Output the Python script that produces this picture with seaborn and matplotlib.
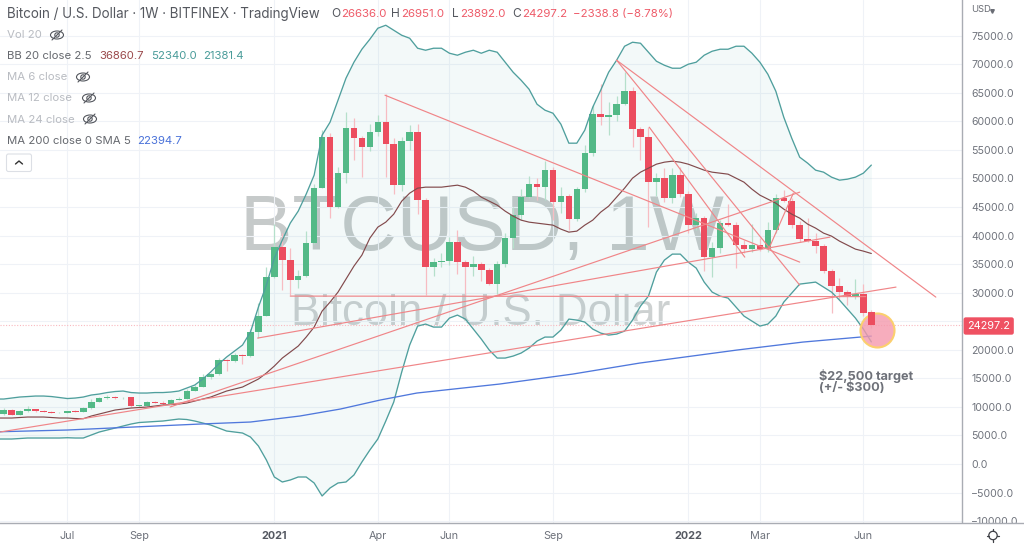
import numpy as np
import pandas as pd
import matplotlib
matplotlib.use("Agg")
import matplotlib.pyplot as plt
import seaborn as sns
from matplotlib.lines import Line2D
from matplotlib.patches import Ellipse, FancyBboxPatch, Circle
from matplotlib.transforms import Affine2D

# ---------- data (USD, weekly candles) ----------
opens = [8700,9450,8600,9250,9600,9250,9100,8950,9000,9300,9100,9750,10900,11550,11750,11500,11650,10200,10200,10900,
         10750,10500,11250,11350,12850,13550,15150,15750,18150,18000,19150,18900,23100,26000,32700,38000,35700,32200,33000,38700,
         48400,57300,45000,50900,58800,57100,55500,58100,59800,56000,48900,56500,58100,46300,34500,35400,35600,38800,35300,34500,
         35100,34000,31600,35100,39600,43600,46800,49000,48500,51500,45800,47000,42900,48100,54500,61300,60700,61100,63100,65300,
         58600,57200,49300,50000,46600,50600,47300,41800,43000,36200,37900,42200,41900,38300,37600,38300,37600,41000,46500,46100,
         41900,39400,39100,38100,33800,31150,30100,29300,29800,26636]
closes = [9450,8650,9250,9600,9200,9150,8950,9000,9250,9150,9750,10900,11550,11750,11500,11600,10150,10250,10850,10750,
          10500,11250,11350,12850,13550,15150,15750,18150,18000,19100,18900,23100,26000,32700,38000,35700,32200,32900,38700,48400,
          57300,45000,50900,58800,57100,55500,58100,59800,56000,48900,56500,58100,46300,34500,35400,35600,38800,35300,34500,35100,
          34000,31600,35100,39600,43600,46800,49000,48500,51500,45800,47000,42900,48100,54500,61300,60700,61100,63100,65300,58600,
          57200,49300,50000,46600,50600,47300,41800,43000,36200,37900,42200,41900,38300,37600,38300,37600,41000,46500,46100,41900,
          39400,39100,38100,33800,31150,30100,29300,29800,26500,24297]
highs = [9800,9650,9400,10100,9700,9500,9350,9150,9350,9400,9900,11350,11700,12000,11900,11800,11700,10400,11000,11100,
         10950,11400,11700,13200,13800,15800,16000,18500,18400,19500,19300,23700,28200,34500,42100,40400,37750,34000,40800,49000,
         58400,58000,52000,61650,60500,57400,59500,61100,64800,57000,57200,59300,59600,46500,36000,37000,39800,40950,35800,36500,
         35300,34400,35500,40500,45000,48200,50400,50000,53000,52000,48500,47300,48500,55800,62900,66600,63400,64500,68650,66000,
         59000,59000,51000,51800,51800,52000,47800,44000,43500,38800,42800,45600,42300,39300,42000,39500,42400,47200,48000,46600,
         42500,43100,40500,38600,34200,32500,30400,32400,31600,26951]
lows = [8600,8500,8500,9150,9100,9050,8850,8900,8950,9100,9050,9700,10850,11400,11350,11400,10000,10050,10150,10650,
        10400,10350,11200,11300,12800,13500,14900,15600,16200,17900,17500,18800,22000,25900,32500,30450,29575,30900,32800,38500,
        48300,43000,44800,49200,53200,50300,54800,57500,50300,47200,47800,55000,43800,29575,33000,34500,34800,33350,29575,33000,
        32000,31300,29800,34500,37800,42800,46500,46200,46200,42700,44000,40900,42500,47600,54000,59300,57600,60000,62800,55500,
        53200,41500,47000,45800,45700,46800,40500,41000,33800,32800,36900,41700,34400,37000,37100,37300,37100,40400,45800,41300,
        38800,38800,37000,33500,26400,28700,27800,28900,26000,23892]

bb_upper = [11375,11375,11550,11725,11810,11900,11900,11810,11640,11460,11550,11725,12075,12250,12510,12690,12775,12510,12425,12425,12510,12510,12600,12775,13300,13825,14875,16100,17500,18725,19775,20825,23100,27475,31325,36050,39200,42175,44275,47250,50575,
            57575,59850,63700,67550,70350,72625,74375,76300,76825,75950,75075,74550,72800,72450,72800,72800,71925,71575,72100,72450,71925,72450,72100,70350,68600,67200,65625,63000,61950,61425,59500,56175,56175,58450,62475,65450,68600,70700,73150,73850,73675,72100,70525,69825,69300,69300,70000,70350,71575,72275,72625,72625,73150,73150,71925,70350,68250,65275,60725,57050,53725,52675,51450,51100,50225,49700,49875,50225,50925,52340]
bb_lower = [4375,4375,4375,4460,4550,4550,4550,4550,4550,4600,4550,4550,5075,5600,5950,6300,6650,7000,7260,7350,7440,7525,7700,7875,7790,7525,7175,6825,6300,5775,5600,5425,4725,3150,700,-2275,-3150,-2800,-2275,-2275,-3325,
            -5600,-4200,-3325,-3150,-1925,350,2450,4375,7525,10850,16100,20825,24150,24500,23975,23975,25550,26075,25375,23625,21875,19950,18550,18550,18900,19425,20300,21525,22225,22225,23450,25375,25200,24850,23625,22925,22575,22750,23275,25200,27650,29400,33600,35700,36750,36750,35350,34300,31850,30100,29400,29050,27475,25900,25025,24150,24500,25900,28350,29925,31500,31675,31850,30975,30100,28700,27125,25550,23625,21381]
bb_basis = [8050,8050,8050,8140,8225,8225,8225,8140,8050,8050,7960,7930,8400,8750,9100,9450,9625,9800,9890,9975,10150,10325,10410,10500,10675,11025,11375,11725,12250,12775,13125,13475,14175,14875,15925,17150,18550,19600,20650,22225,23975,
            26775,28350,30100,32375,34650,36575,39550,41475,42350,43750,46025,47425,48300,48475,48475,48475,48650,48825,48475,47775,46725,46025,45325,44275,43400,42700,42350,42175,42000,41825,41125,40600,40775,41825,42700,44100,45150,46725,48300,50050,51100,51800,52500,52850,53025,52850,52500,51975,51450,51100,50925,50750,50050,49350,48125,47075,46375,45675,44625,43750,43050,42000,41300,40425,39900,39025,38325,37625,37275,36860]

ma_weeks = [-0.5,8,16.3,24.7,31,37.2,42.3,47.3,51.9,62.3,71.5,79.9,92.1,100.4,109]
ma_values = [5650,5950,6475,7000,7350,8400,9625,11200,12425,14000,15750,17675,19950,21350,22395]

trend_x0 = [47.9,36.0,31.9,-0.46,20.9,77.0,77.0,81.1,96.1]
trend_y0 = [64575,29400,22050,5600,9975,70700,70700,58975,37625]
trend_x1 = [100.0,108.3,103.8,112.1,100.0,117.1,100.0,93.1,99.2]
trend_y1 = [35350,29310,39725,30975,47600,29225,31325,36225,47425]

last_price = 24297.2
target_week = 109.7
target_price = 23450

ytick_values = list(range(-10000, 80000, 5000))
xtick_weeks = [8,17,34,47,56,69,86,95,108]
xtick_labels = ["Jul","Sep","2021","Apr","Jun","Sep","2022","Mar","Jun"]

# ---------- style ----------
FONT = ["Inter", "DejaVu Sans"]
sns.set_theme(style="white")
plt.rcParams["font.family"] = FONT
plt.rcParams["axes.unicode_minus"] = False
GREEN, RED = "#53b987", "#ec4d5f"
GREEN_W, RED_W = "#b5e0cb", "#f7bcc2"
TEAL, BASIS, BLUE, TREND = "#4f9f9d", "#824a4c", "#5078dc", "#f08588"
GRID, AXIS, LABEL = "#eff2f7", "#a9acb3", "#6f737c"

W, H = 1024, 546
fig = plt.figure(figsize=(W/100, H/100), dpi=100, facecolor="white")
pix = Affine2D().scale(1/W, -1/H).translate(0, 1) + fig.transFigure

ax = fig.add_axes([0, 23/H, 962/W, 523/H], zorder=1)
ax.set_xlim(-0.465, 120.39)
ax.set_ylim(-10331, 81246)

# grid and axes
ax.set_yticks(ytick_values)
ax.set_yticklabels(["" if v == 25000 else f"{v:.1f}".replace("-", "\u2212") for v in ytick_values])
ax.yaxis.tick_right()
ax.tick_params(axis="y", length=0, pad=6.5, labelsize=7.6, labelcolor=LABEL)
ax.set_xticks(xtick_weeks)
ax.tick_params(axis="x", length=0, labelbottom=False)
ax.grid(True, color=GRID, lw=0.8, zorder=0)
ax.set_axisbelow(True)
for s in ["top", "left", "bottom"]:
    ax.spines[s].set_visible(False)
ax.spines["right"].set_color(AXIS)
ax.spines["right"].set_linewidth(1.0)

# watermarks
ax.text(482, 250, "BTCUSD, 1W", transform=pix, ha="center", va="baseline", fontsize=56.5,
        family="Liberation Sans", color="#c6caca", zorder=0.5)
ax.text(481, 325, "Bitcoin / U.S. Dollar", transform=pix, ha="center", va="baseline", fontsize=31.5,
        family="Liberation Sans", color="#cdd1d1", zorder=0.5)

# bands via seaborn
weeks = np.arange(-1, 110)
bands = pd.DataFrame({"week": weeks, "upper": bb_upper, "lower": bb_lower, "basis": bb_basis})
ax.fill_between(bands["week"], bands["lower"], bands["upper"], color="#2a9aa0", alpha=0.055, lw=0, zorder=1)

# candles
cdf = pd.DataFrame({"week": np.arange(len(opens)), "o": opens, "c": closes, "h": highs, "l": lows})
up = cdf["c"] >= cdf["o"]
ax.vlines(cdf["week"], cdf["l"], cdf["h"], colors=np.where(up, GREEN_W, RED_W), lw=0.9, zorder=2)
early = cdf.iloc[:-1]
ax.bar(early["week"], (early["c"]-early["o"]), bottom=early["o"], width=0.82,
       color=np.where(early["c"] >= early["o"], GREEN, RED), lw=0, zorder=2.5)
final = cdf.iloc[-1:]
ax.bar(final["week"], (final["c"]-final["o"]), bottom=final["o"], width=0.82, color=RED, lw=0, zorder=5)

for col, colr, lw in [("upper", TEAL, 0.95), ("lower", TEAL, 0.95), ("basis", BASIS, 0.85)]:
    sns.lineplot(data=bands, x="week", y=col, ax=ax, color=colr, lw=lw, errorbar=None, zorder=3, legend=False)
sns.lineplot(x=ma_weeks, y=ma_values, ax=ax, color=BLUE, lw=0.95, errorbar=None, zorder=3, legend=False)
ax.set_xlabel(""); ax.set_ylabel("")

for x0, y0, x1, y1 in zip(trend_x0, trend_y0, trend_x1, trend_y1):
    ax.plot([x0, x1], [y0, y1], color=TREND, lw=0.85, zorder=3.2)

ax.axhline(last_price, color="#f9b9bf", lw=0.8, ls=(0, (1, 1.5)), zorder=1.5)

# target circle
ax.scatter([target_week], [target_price], s=600, facecolor=(0.96, 0.60, 0.68, 0.8),
           edgecolor="#fbcf6e", linewidth=1.5, zorder=4)

# bottom strip
strip = fig.add_axes([0, 0, 1, 23/H], zorder=5)
strip.set_xlim(-0.465, (W-3.7)/7.96)
strip.set_ylim(0, 1)
strip.set_xticks([]); strip.set_yticks([])
for s in ["left", "right", "bottom"]:
    strip.spines[s].set_visible(False)
strip.spines["top"].set_color(AXIS)
strip.spines["top"].set_linewidth(1.0)
for wk, lab in zip(xtick_weeks, xtick_labels):
    strip.text(wk, 0.45, lab, ha="center", va="center", fontsize=7.8, color="#555962" if lab.isdigit() else LABEL,
               fontweight="bold" if lab.isdigit() else "normal")
# gear
gx, gy = 993, 535.5
fig.add_artist(Circle((gx, gy), 4.2, transform=pix, fc="white", ec="#3d3f45", lw=0.9, zorder=7))
for a in np.arange(0, 360, 90):
    r = np.radians(a)
    fig.add_artist(Line2D([gx+4.2*np.cos(r), gx+6.2*np.cos(r)], [gy+4.2*np.sin(r), gy+6.2*np.sin(r)],
                          transform=pix, color="#3d3f45", lw=0.9, zorder=7))

# header text
def t(x, y, s, color="#6a6d75", size=8.2, **kw):
    fig.text(x, y, s, transform=pix, ha="left", va="center", color=color, fontsize=size, zorder=8, **kw)

t(7, 14, "Bitcoin / U.S. Dollar \u00b7 1W \u00b7 BITFINEX \u00b7 TradingView", color="#55585f", size=9.65)
for xx, s in [(331, "O"), (391, "H"), (452, "L"), (512, "C")]:
    t(xx, 14, s, color="#55585f", size=8.6)
for xx, s in [(341, "26636.0"), (401, "26951.0"), (460, "23892.0"), (522, "24297.2"), (573, "\u22122338.8 (\u22128.78%)")]:
    t(xx, 14, s, color="#ee5a68", size=8.25)

t(7, 35, "Vol 20", color="#b9bcc2")
t(7, 56, "BB 20 close 2.5", color="#66696f")
t(99, 56, "36860.7", color="#9b4a4c")
t(151, 56, "52340.0", color="#4a9c9a")
t(203, 56, "21381.4", color="#4a9c9a")
t(7, 77, "MA 6 close", color="#b9bcc2")
t(7, 98, "MA 12 close", color="#b9bcc2")
t(7, 120, "MA 24 close", color="#b9bcc2")
t(7, 141, "MA 200 close 0 SMA 5", color="#66696f")
t(137, 141, "22394.7", color="#4a72d9")

def eye(cx, cy):
    fig.add_artist(Ellipse((cx, cy), 13, 8, transform=pix, fc="none", ec="#55585f", lw=0.8, zorder=8))
    fig.add_artist(Circle((cx, cy), 2.2, transform=pix, fc="none", ec="#55585f", lw=0.8, zorder=8))
    fig.add_artist(Line2D([cx-5, cx+5], [cy+5, cy-5], transform=pix, color="#55585f", lw=0.8, zorder=8))
for cx, cy in [(57, 35), (83, 77), (89, 98), (90, 119)]:
    eye(cx, cy)

fig.add_artist(FancyBboxPatch((6.5, 154), 25, 17.5, boxstyle="round,pad=0,rounding_size=2", transform=pix,
                              fc="white", ec="#dcdfe5", lw=0.8, zorder=8))
fig.add_artist(Line2D([15.5, 19, 22.5], [164, 161, 164], transform=pix, color="#333", lw=1.0, zorder=9))

# price scale extras
t(971, 10, "USD", color="#6a6d75", size=6.8)
fig.add_artist(Line2D([991.5], [10.5], transform=pix, marker="v", ms=2.6, color="#6a6d75", zorder=8, lw=0))
fig.text(988.7, 326, "24297.2", transform=pix, ha="center", va="center", color="white", fontsize=7.8, zorder=8,
         bbox=dict(boxstyle="round,pad=0.34,rounding_size=0.2", fc="#ef5162", ec="none"))

# annotation
t(819, 376, "$22,500 target", color="#6e7179", size=9.1, fontweight="bold")
t(819, 387.5, "(+/- $300)", color="#6e7179", size=9.1, fontweight="bold")

fig.savefig("out.png", dpi=100)
